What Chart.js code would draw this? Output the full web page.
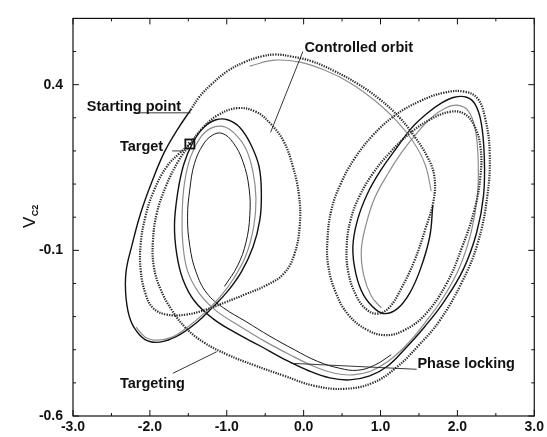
<!DOCTYPE html>
<html><head><meta charset="utf-8">
<script src="https://cdn.jsdelivr.net/npm/chart.js@4.4.0/dist/chart.umd.min.js"></script>
<style>html,body{margin:0;padding:0;background:#fff}canvas{display:block}</style>
</head><body>
<canvas id="c" width="547" height="437" style="width:547px;height:437px"></canvas>
<script>
// Axis ticks
const X_TICKS = [-3, -2, -1, 0, 1, 2, 3];
const X_MINOR = [-2.5, -1.5, -0.5, 0.5, 1.5, 2.5];
const Y_TICKS = [-0.6, -0.1, 0.4];
const Y_MINOR = [-0.5, -0.4, -0.3, -0.2, 0.0, 0.1, 0.2, 0.3, 0.5];

// Trajectories (V_C1, V_C2)
const targetingPath = [[-1.47,0.324],[-1.35,0.365],[-1.19,0.403],[-0.99,0.441],[-0.77,0.468],[-0.55,0.485],[-0.36,0.491],[-0.16,0.485],[0.10,0.471],[0.40,0.441],[0.70,0.403],[0.99,0.356],[1.25,0.300],[1.45,0.241],[1.61,0.182],[1.70,0.124],[1.69,0.050],[1.58,-0.038],[1.44,-0.132],[1.27,-0.215],[1.12,-0.271],[0.97,-0.291],[0.82,-0.279],[0.68,-0.235],[0.58,-0.165],[0.56,-0.088],[0.61,-0.009],[0.73,0.065],[0.91,0.135],[1.13,0.197],[1.38,0.253],[1.64,0.294],[1.90,0.318],[2.09,0.312],[2.22,0.276],[2.30,0.212],[2.30,0.124],[2.22,0.021],[2.06,-0.091],[1.86,-0.200],[1.58,-0.294],[1.31,-0.341],[1.06,-0.356],[0.81,-0.338],[0.58,-0.294],[0.42,-0.229],[0.32,-0.147],[0.31,-0.068],[0.36,0.021],[0.48,0.100],[0.66,0.176],[0.90,0.247],[1.18,0.306],[1.51,0.350],[1.83,0.376],[2.09,0.379],[2.26,0.359],[2.36,0.300],[2.42,0.197],[2.39,0.065],[2.26,-0.082],[2.05,-0.200],[1.77,-0.312],[1.48,-0.391],[1.21,-0.453],[0.90,-0.500],[0.53,-0.518],[0.14,-0.509],[-0.25,-0.479],[-0.64,-0.447],[-0.99,-0.415],[-1.29,-0.379],[-1.53,-0.335],[-1.71,-0.282],[-1.86,-0.218],[-1.95,-0.147],[-1.96,-0.071],[-1.91,0.012],[-1.79,0.094],[-1.64,0.165],[-1.48,0.221]];

const leftLoop = [[-1.48,0.221],[-1.32,0.268],[-1.13,0.306],[-0.87,0.329],[-0.62,0.318],[-0.43,0.282],[-0.26,0.229],[-0.14,0.153],[-0.06,0.065],[-0.05,-0.024],[-0.12,-0.112],[-0.26,-0.171],[-0.49,-0.206],[-0.75,-0.232],[-1.01,-0.256],[-1.27,-0.279],[-1.53,-0.294],[-1.78,-0.294],[-1.96,-0.274],[-2.06,-0.229],[-2.12,-0.159],[-2.12,-0.082],[-2.06,0.000],[-1.95,0.079],[-1.78,0.153],[-1.61,0.194],[-1.48,0.221]];

const controlledOrbit = [[-1.47,0.324],[-1.64,0.265],[-1.81,0.197],[-1.97,0.109],[-2.12,0.012],[-2.23,-0.082],[-2.31,-0.165],[-2.31,-0.244],[-2.25,-0.312],[-2.13,-0.356],[-1.99,-0.376],[-1.81,-0.374],[-1.60,-0.353],[-1.39,-0.318],[-1.18,-0.271],[-0.99,-0.224],[-0.81,-0.165],[-0.66,-0.091],[-0.57,-0.009],[-0.55,0.071],[-0.58,0.153],[-0.69,0.221],[-0.83,0.271],[-0.99,0.294],[-1.14,0.294],[-1.30,0.271],[-1.44,0.226],[-1.56,0.159],[-1.64,0.071],[-1.68,-0.024],[-1.65,-0.112],[-1.57,-0.188],[-1.42,-0.253],[-1.18,-0.306],[-0.90,-0.347],[-0.57,-0.388],[-0.25,-0.429],[0.08,-0.465],[0.34,-0.485],[0.60,-0.491],[0.86,-0.479],[1.09,-0.450],[1.32,-0.397],[1.58,-0.329],[1.84,-0.250],[2.08,-0.156],[2.25,-0.047],[2.34,0.065],[2.35,0.182],[2.31,0.285],[2.23,0.341],[2.12,0.362],[1.96,0.362],[1.79,0.344],[1.60,0.312],[1.40,0.268],[1.21,0.209],[1.01,0.144],[0.83,0.071],[0.70,-0.009],[0.64,-0.091],[0.68,-0.171],[0.78,-0.235],[0.94,-0.279],[1.06,-0.291],[1.22,-0.276],[1.38,-0.229],[1.52,-0.156],[1.64,-0.059],[1.68,0.035]];

const lockedOrbit = [[-2.18,-0.332],[-2.06,-0.362],[-1.91,-0.371],[-1.71,-0.362],[-1.51,-0.332],[-1.30,-0.291],[-1.09,-0.241],[-0.91,-0.185],[-0.75,-0.115],[-0.65,-0.029],[-0.62,0.056],[-0.66,0.138],[-0.75,0.206],[-0.90,0.253],[-1.05,0.274],[-1.21,0.268],[-1.35,0.238],[-1.47,0.182],[-1.55,0.103],[-1.58,0.012],[-1.57,-0.082],[-1.51,-0.162],[-1.36,-0.229],[-1.14,-0.282],[-0.83,-0.329],[-0.51,-0.374],[-0.18,-0.415],[0.13,-0.450],[0.40,-0.471],[0.64,-0.476],[0.87,-0.465],[1.10,-0.435],[1.34,-0.385],[1.58,-0.318],[1.82,-0.241],[2.03,-0.150],[2.18,-0.044],[2.26,0.065],[2.27,0.174],[2.23,0.268],[2.14,0.321],[2.00,0.338],[1.84,0.329],[1.66,0.300],[1.47,0.253],[1.27,0.194],[1.09,0.129],[0.92,0.056],[0.81,-0.024],[0.75,-0.100],[0.78,-0.174],[0.88,-0.238],[1.01,-0.274]];

const innerOrbit = [[-1.03,-0.209],[-0.86,-0.147],[-0.75,-0.076],[-0.70,0.006],[-0.71,0.088],[-0.79,0.168],[-0.92,0.226],[-1.06,0.253],[-1.19,0.247],[-1.31,0.218],[-1.42,0.162],[-1.48,0.085],[-1.51,0.000],[-1.48,-0.088],[-1.40,-0.165],[-1.26,-0.229],[-1.04,-0.274],[-0.75,-0.315],[-0.44,-0.359],[-0.12,-0.400],[0.18,-0.435],[0.47,-0.456],[0.70,-0.462],[0.92,-0.447],[1.14,-0.415]];

const topArcGray = [[-0.70,0.456],[-0.38,0.474],[-0.05,0.468],[0.27,0.444],[0.60,0.406],[0.92,0.353],[1.21,0.291],[1.43,0.226],[1.58,0.159],[1.66,0.079]];

const pts = a => a.map(p => ({x: p[0], y: p[1]}));
const FONT = '"Liberation Sans", Arial, sans-serif';

function line(data, color, width, dash) {
  return {data: pts(data), showLine: true, pointRadius: 0, borderColor: color,
    borderWidth: width, borderDash: dash || [], tension: 0.4, fill: false};
}

const annot = {
  id: 'annot',
  afterDatasetsDraw(chart) {
    const {ctx, chartArea: a, scales: {x, y}} = chart;
    const X = v => x.getPixelForValue(v), Y = v => y.getPixelForValue(v);
    ctx.save();
    // frame
    ctx.strokeStyle = '#111'; ctx.lineWidth = 1.2; ctx.setLineDash([]);
    ctx.strokeRect(a.left, a.top, a.right - a.left, a.bottom - a.top);
    // inward ticks
    ctx.beginPath(); ctx.lineWidth = 1;
    const tx = (vals, len) => vals.forEach(v => { const p = X(v);
      ctx.moveTo(p, a.bottom); ctx.lineTo(p, a.bottom - len);
      ctx.moveTo(p, a.top); ctx.lineTo(p, a.top + len); });
    const ty = (vals, len) => vals.forEach(v => { const p = Y(v);
      ctx.moveTo(a.left, p); ctx.lineTo(a.left + len, p);
      ctx.moveTo(a.right, p); ctx.lineTo(a.right - len, p); });
    tx(X_TICKS, 6); tx(X_MINOR, 3); ty(Y_TICKS, 6); ty(Y_MINOR, 3);
    ctx.stroke();
    // pointer lines
    ctx.strokeStyle = '#222'; ctx.lineWidth = 0.9;
    ctx.beginPath();
    const seg = (x1, y1, x2, y2) => { ctx.moveTo(X(x1), Y(y1)); ctx.lineTo(X(x2), Y(y2)); };
    seg(-0.01, 0.50, -0.43, 0.256);     // Controlled orbit
    seg(-2.22, 0.315, -1.47, 0.315);    // Starting point
    seg(-1.71, 0.200, -1.56, 0.200);    // Target
    seg(-1.70, -0.471, -1.13, -0.406);  // Targeting
    seg(-0.16, -0.441, 1.47, -0.459);   // Phase locking
    ctx.stroke();
    // target box
    const cx = X(-1.48), cy = Y(0.221);
    ctx.lineWidth = 1.8; ctx.strokeStyle = '#111';
    ctx.strokeRect(cx - 4.5, cy - 4.5, 9, 9);
    ctx.lineWidth = 1; ctx.beginPath();
    ctx.moveTo(cx - 2, cy - 2); ctx.lineTo(cx + 2, cy + 2);
    ctx.moveTo(cx + 2, cy - 2); ctx.lineTo(cx - 2, cy + 2); ctx.stroke();
    // labels
    ctx.fillStyle = '#111'; ctx.textAlign = 'left'; ctx.textBaseline = 'middle';
    ctx.font = 'bold 14.5px ' + FONT;
    ctx.fillText('Controlled orbit', X(0.01), Y(0.512));
    ctx.fillText('Starting point', X(-2.82), Y(0.332));
    ctx.fillText('Target', X(-2.39), Y(0.212));
    ctx.fillText('Targeting', X(-2.39), Y(-0.503));
    ctx.fillText('Phase locking', X(1.48), Y(-0.444));
    // y-axis title V_C2
    ctx.translate(35, 228); ctx.rotate(-Math.PI / 2);
    ctx.textBaseline = 'alphabetic';
    ctx.font = '17px ' + FONT;
    ctx.fillText('V', 0, 0);
    const w = ctx.measureText('V').width;
    ctx.font = 'bold 9px ' + FONT;
    ctx.fillText('C2', w + 0.5, 3);
    ctx.restore();
  }
};

new Chart(document.getElementById('c'), {
  type: 'scatter',
  data: {datasets: [
    line(leftLoop, '#2a2a2a', 2.2, [1.3, 1.2]),
    line(targetingPath, '#2a2a2a', 2.2, [1.3, 1.2]),
    line(topArcGray, '#8c8c8c', 1.1),
    line(lockedOrbit, '#8c8c8c', 1.2),
    line(innerOrbit, '#1a1a1a', 1.0),
    line(controlledOrbit, '#111111', 1.4)
  ]},
  options: {
    responsive: false, animation: false, devicePixelRatio: 1,
    layout: {autoPadding: false, padding: {left: 0, right: 12, top: 8, bottom: 0}},
    plugins: {legend: {display: false}, tooltip: {enabled: false}},
    scales: {
      x: {type: 'linear', min: -3, max: 3,
        afterFit: s => { s.height = 21; },
        afterBuildTicks: s => { s.ticks = X_TICKS.map(v => ({value: v})); },
        grid: {display: false, drawTicks: false}, border: {display: false},
        ticks: {padding: 3, color: '#111', font: {family: FONT, size: 14, weight: 'bold'},
          maxRotation: 0, autoSkip: false, callback: v => v.toFixed(1)}},
      y: {type: 'linear', min: -0.6, max: 0.6,
        afterFit: s => { s.width = 73; },
        afterBuildTicks: s => { s.ticks = Y_TICKS.map(v => ({value: v})); },
        grid: {display: false, drawTicks: false}, border: {display: false},
        ticks: {padding: 10, color: '#111', font: {family: FONT, size: 14, weight: 'bold'},
          autoSkip: false, callback: v => v.toFixed(1)}}
    }
  },
  plugins: [annot]
});
</script>
</body></html>
